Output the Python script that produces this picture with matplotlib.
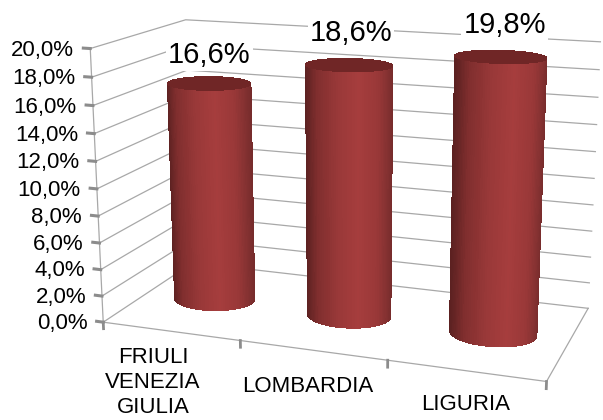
import numpy as np
import matplotlib
matplotlib.use('Agg')
import matplotlib.pyplot as plt
from mpl_toolkits.mplot3d import proj3d

plt.rcParams['font.family'] = ['Liberation Sans', 'DejaVu Sans']

categories = ['FRIULI\nVENEZIA\nGIULIA', 'LOMBARDIA', 'LIGURIA']
values = [16.6, 18.6, 19.8]
value_labels = ['16,6%', '18,6%', '19,8%']
ticks = [0, 2, 4, 6, 8, 10, 12, 14, 16, 18, 20]
tick_labels = ['0,0%', '2,0%', '4,0%', '6,0%', '8,0%', '10,0%', '12,0%', '14,0%', '16,0%', '18,0%', '20,0%']

ELEV, AZIM, FOCAL = 14.764, -70.27, 0.468
BX, BY = 1.627, 0.74
RX = 0.287
RY = 0.85 * RX * (BX / 3) / BY
GRID = '#a8a8a8'
TICK = '#8c8c8c'

fig = plt.figure(figsize=(6.03, 4.2), dpi=100)
ax = fig.add_axes([0.1063, -0.1155, 0.9202, 1.3212], projection='3d', computed_zorder=False)
ax.view_init(elev=ELEV, azim=AZIM)
ax.set_proj_type('persp', focal_length=FOCAL)
ax.set_box_aspect((BX, BY, 1))
ax.set_axis_off()
ax.set_xlim(0, 3, view_margin=0)
ax.set_ylim(0, 1, view_margin=0)
ax.set_zlim(0, 20, view_margin=0)


def label(x, y, z, s, dx, dy, size, **kw):
    # text is placed in 2D from the projected point, offset in pixels
    u, v, _ = proj3d.proj_transform(x, y, z, ax.get_proj())
    ax.annotate(s, xy=(u, v), xycoords='data', xytext=(dx, dy), textcoords='offset pixels',
                fontsize=size, zorder=6, annotation_clip=False, **kw)


# walls and floor
for t in ticks:
    ax.plot([0, 0, 3], [0, 1, 1], [t, t, t], color=GRID, lw=0.9, zorder=1)
    ax.plot([-0.05, 0], [0, 0], [t, t], color=TICK, lw=2.2, zorder=2)
ax.plot([0, 3, 3], [0, 0, 1], [0, 0, 0], color=GRID, lw=0.9, zorder=1)
ax.plot([0, 0], [0, 0], [0, 20], color=GRID, lw=0.9, zorder=1)
for i in range(4):
    ax.plot([i, i], [0, 0], [0, -0.5], color=TICK, lw=2, zorder=2)

# cylinders
t = np.linspace(0, 2 * np.pi, 121)
tm = (t[:-1] + t[1:]) / 2
az = np.radians(AZIM)
p = np.cos(tm) * -np.sin(az) + np.sin(tm) * np.cos(az)
stops = [-1, -0.75, -0.3, 0.15, 0.6, 1]
reds = [0.36, 0.50, 0.60, 0.65, 0.60, 0.46]
greens = [0.13, 0.18, 0.22, 0.24, 0.22, 0.17]
side = np.zeros((1, len(tm), 4))
side[0, :, 0] = np.interp(p, stops, reds)
side[0, :, 1] = np.interp(p, stops, greens)
side[0, :, 2] = np.interp(p, stops, greens)
side[0, :, 3] = 1

value_shift = [(1, -3), (2, -1), (3, -2)]
for i, v in enumerate(values):
    cx = i + 0.5
    X = cx + RX * np.cos(t)
    Y = 0.5 + RY * np.sin(t)
    ax.plot_surface(np.array([X, X]), np.array([Y, Y]), np.array([X * 0, X * 0 + v]),
                    facecolors=side, shade=False, rstride=1, cstride=1,
                    linewidth=0, antialiased=False, zorder=3)
    r = np.array([0, 1])
    ax.plot_surface(cx + RX * np.outer(r, np.cos(t)), 0.5 + RY * np.outer(r, np.sin(t)),
                    np.full((2, len(t)), v), color='#702626', shade=False, rstride=1, cstride=1,
                    linewidth=0, antialiased=False, zorder=4)
    label(cx, 0.5, v + 2.3, value_labels[i], value_shift[i][0], value_shift[i][1], 21,
          ha='center', va='center', bbox=dict(fc='white', ec='none', pad=1.5))

for v, s in zip(ticks, tick_labels):
    label(-0.09, 0, v, s, -4, -2.5, 16, ha='right', va='center')

label_depth = [-0.33, -0.3, -0.3]
label_shift = [(15, -27), (19, -13), (18, -8)]
for i, s in enumerate(categories):
    label(i + 0.5, label_depth[i], 0, s, label_shift[i][0], label_shift[i][1], 16,
          ha='center', va='center', linespacing=1.25, multialignment='center')

ax.set_xlim(0, 3, view_margin=0)
ax.set_ylim(0, 1, view_margin=0)
ax.set_zlim(0, 20, view_margin=0)
fig.savefig('out.png', dpi=100)
